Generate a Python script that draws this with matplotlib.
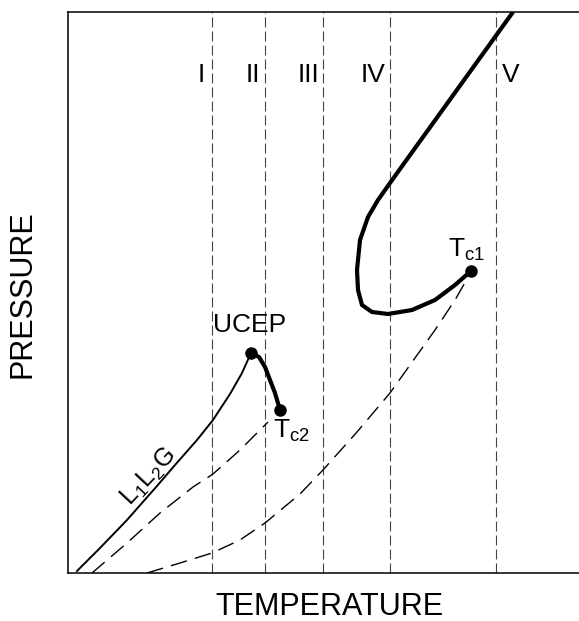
import matplotlib
matplotlib.use("Agg")
import matplotlib.pyplot as plt

plt.rcParams['font.family'] = ['Liberation Sans', 'DejaVu Sans']
plt.rcParams['mathtext.default'] = 'regular'

# region boundaries (temperature) and their labels
boundaries = [144, 197, 255, 322, 428]
region_names = ['I', 'II', 'III', 'IV', 'V']
region_x = [133, 185, 241, 305, 443]
region_y = 498

# L1L2G three-phase line up to UCEP
llg_T = [9, 32, 59, 89, 107, 129, 145, 162, 174, 183]
llg_P = [2, 25, 53, 87, 108, 133, 153, 179, 200, 220]

# critical line from UCEP to Tc2
crit2_T = [183, 191, 197, 202, 207, 212]
crit2_P = [220, 216, 206, 193, 180, 163]

# vapour pressure curve of component 2
vp2_T = [24, 59, 92, 125, 145, 172, 200]
vp2_P = [0, 30, 60, 86, 99, 123, 151]

# vapour pressure curve of component 1
vp1_T = [79, 112, 144, 172, 197, 232, 255, 289, 322, 352, 367, 387, 403]
vp1_P = [0, 10, 20, 33, 50, 79, 103, 141, 180, 222, 243, 273, 301]

# critical line starting at Tc1
crit1_T = [403, 387, 367, 344, 320, 304, 294, 290, 289, 292, 300, 310, 322, 332, 445]
crit1_P = [302, 288, 273, 263, 259, 261, 268, 283, 303, 333, 356, 373, 390, 404, 561]

points = {'UCEP': (183, 220), 'Tc2': (212, 163), 'Tc1': (403, 302)}

fig = plt.figure(figsize=(5.79, 6.21), dpi=100)
ax = fig.add_axes([68/579, 48/621, 511/579, 561/621])
ax.set_xlim(0, 511)
ax.set_ylim(0, 561)
ax.set_xticks([])
ax.set_yticks([])
ax.spines['right'].set_visible(False)
for s in ['left', 'bottom', 'top']:
    ax.spines[s].set_linewidth(1.1)

for b in boundaries:
    ax.axvline(b, color='#444444', lw=0.8, dashes=(9, 3.6))
for name, x in zip(region_names, region_x):
    ax.text(x, region_y, name, fontsize=19, ha='center', va='center')

ax.plot(llg_T, llg_P, color='black', lw=1.4)
ax.plot(crit2_T, crit2_P, color='black', lw=3)
ax.plot(vp2_T, vp2_P, color='black', lw=1.0, dashes=(12, 6))
ax.plot(vp1_T, vp1_P, color='black', lw=1.0, dashes=(12, 6))
ax.plot(crit1_T, crit1_P, color='black', lw=3, solid_capstyle='butt')

for k, (x, y) in points.items():
    ax.plot(x, y, 'o', color='black', ms=8, zorder=5)

ax.text(182, 248, 'UCEP', fontsize=19, ha='center', va='center')
ax.text(380, 316, 'T$_{c1}$', fontsize=19, ha='left', va='baseline')
ax.text(205, 135, 'T$_{c2}$', fontsize=19, ha='left', va='baseline')
ax.text(81, 96, 'L$_1$L$_2$G', fontsize=18, ha='center', va='center',
        rotation=47, rotation_mode='anchor')

fig.text(329/579, 1 - 607/621, 'TEMPERATURE', fontsize=22, ha='center', va='center')
fig.text(23/579, 1 - 294/621, 'PRESSURE', fontsize=22, ha='center', va='center',
         rotation=90)

fig.savefig('out.png', dpi=100)
